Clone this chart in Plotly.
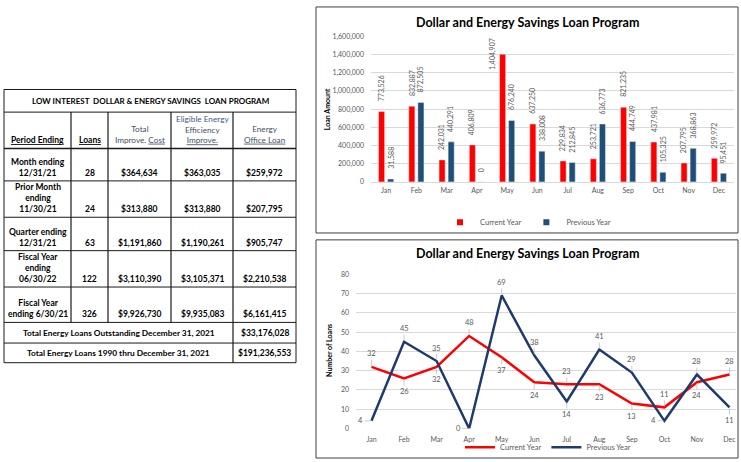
import plotly.graph_objects as go

W, H = 741, 462
FONT = "Lato, 'Open Sans', sans-serif"

# ---------------- data ----------------
months = ['Jan', 'Feb', 'Mar', 'Apr', 'May', 'Jun', 'Jul', 'Aug', 'Sep', 'Oct', 'Nov', 'Dec']
cur_amt = [773526, 832887, 242031, 406809, 1404907, 637250, 229834, 253721, 821235, 437981, 207795, 259972]
prev_amt = [31588, 872505, 440291, 0, 676240, 338008, 212845, 636773, 444749, 105325, 368863, 95451]
cur_cnt = [32, 26, 32, 48, 37, 24, 23, 23, 13, 11, 24, 28]
prev_cnt = [4, 45, 35, 0, 69, 38, 14, 41, 29, 4, 28, 11]
series_names = ['Current Year', 'Previous Year']
chart_title = 'Dollar and Energy Savings Loan Program'

table_title = 'LOW INTEREST  DOLLAR &amp; ENERGY SAVINGS  LOAN PROGRAM'
period_labels = ['Month ending<br>12/31/21', 'Prior Month<br>ending<br>11/30/21', 'Quarter ending<br>12/31/21',
                 'Fiscal Year<br>ending<br>06/30/22', 'Fiscal Year<br>ending 6/30/21']
loans = [28, 24, 63, 122, 326]
total_cost = [364634, 313880, 1191860, 3110390, 9926730]
eligible = [363035, 313880, 1190261, 3105371, 9935083]
office_loan = [259972, 207795, 905747, 2210538, 6161415]
summary_labels = ['Total Energy Loans Outstanding December 31, 2021', 'Total Energy Loans 1990 thru December 31, 2021']
summary_values = [33176028, 191236553]

# label placement codes for the line chart (style only)
cur_pos = ['a', 'b', 'b', 'a', 'b', 'b', 'a', 'b', 'b', 'a', 'b', 'a']
prev_pos = ['l', 'a', 'a', 'l', 'a', 'a', 'b', 'a', 'a', 'l', 'a', 'b']

RED = '#FF0000'
BLUE_BAR = '#1F4E79'
BLUE_LINE = '#1F3B6E'
GRID = '#D9D9D9'
TICK = '#595959'


def px(x):
    return x / W


def py(y):
    return 1 - y / H


fig = go.Figure()

# ---------------- bar chart ----------------
fig.add_trace(go.Bar(x=months, y=cur_amt, name=series_names[0], marker_color=RED,
                     xaxis='x', yaxis='y', showlegend=False))
fig.add_trace(go.Bar(x=months, y=prev_amt, name=series_names[1], marker_color=BLUE_BAR,
                     xaxis='x', yaxis='y', showlegend=False))
# legend entries (small squares, like the source)
for nm, col in zip(series_names, (RED, BLUE_BAR)):
    fig.add_trace(go.Scatter(x=[None], y=[None], mode='markers', name=nm,
                             marker=dict(symbol='square', size=6, color=col),
                             xaxis='x', yaxis='y', legend='legend'))

# ---------------- line chart ----------------
fig.add_trace(go.Scatter(x=months, y=cur_cnt, name=series_names[0], mode='lines',
                         line=dict(color=RED, width=2.5), xaxis='x2', yaxis='y2', legend='legend2'))
fig.add_trace(go.Scatter(x=months, y=prev_cnt, name=series_names[1], mode='lines',
                         line=dict(color=BLUE_LINE, width=2.5), xaxis='x2', yaxis='y2', legend='legend2'))

ann = []
shapes = []

# bar labels
for vals, xs in ((cur_amt, -4.5), (prev_amt, 4.5)):
    for m, v in zip(months, vals):
        if v > 1300000:
            ann.append(dict(xref='x', yref='y', x=m, y=v, text=f'{v:,}', showarrow=False, textangle=-90,
                            xshift=xs - 10, yshift=0, xanchor='center', yanchor='middle',
                            font=dict(size=7, color=TICK, family=FONT)))
        else:
            ann.append(dict(xref='x', yref='y', x=m, y=v, text=f'{v:,}', showarrow=False, textangle=-90,
                            xshift=xs, yshift=8, xanchor='center', yanchor='bottom',
                            font=dict(size=7, color=TICK, family=FONT)))

# line labels with leader lines
offs = {'a': (0, -13), 'b': (0, 13), 'l': (-11, 0)}
for vals, pos in ((cur_cnt, cur_pos), (prev_cnt, prev_pos)):
    for m, v, p in zip(months, vals, pos):
        dx, dy = offs[p]
        ann.append(dict(xref='x2', yref='y2', x=m, y=v, text=str(v), showarrow=True, ax=dx, ay=dy,
                        arrowhead=0, arrowwidth=0.8, arrowcolor='#BFBFBF', standoff=1,
                        font=dict(size=7.5, color=TICK, family=FONT)))

# chart titles and axis titles
for ty in (18, 253):
    ann.append(dict(xref='paper', yref='paper', x=px(527), y=py(ty), text='<b>' + chart_title + '</b>',
                    showarrow=False, xanchor='center', yanchor='middle',
                    font=dict(size=12.5, color='#000000', family=FONT)))
ann.append(dict(xref='paper', yref='paper', x=px(327), y=py(106), text='<b>Loan Amount</b>', textangle=-90,
                showarrow=False, xanchor='center', yanchor='middle', font=dict(size=7, color='#000', family=FONT)))
ann.append(dict(xref='paper', yref='paper', x=px(329), y=py(352), text='<b>Number of Loans</b>', textangle=-90,
                showarrow=False, xanchor='center', yanchor='middle', font=dict(size=7, color='#000', family=FONT)))

# chart frames
for y0, y1 in ((2, 232), (239, 461)):
    shapes.append(dict(type='rect', xref='paper', yref='paper', x0=px(316), x1=px(738), y0=py(y1), y1=py(y0),
                       line=dict(color='#404040', width=1)))

# ---------------- table ----------------
cols = [4, 71, 108, 171, 233, 296]
rows = [86, 109, 146, 179, 216, 250, 287, 323, 344, 364]
LC = '#1A1A1A'


def hline(y, x0, x1, w=1):
    shapes.append(dict(type='line', xref='paper', yref='paper', x0=px(x0), x1=px(x1), y0=py(y), y1=py(y),
                       line=dict(color=LC, width=w)))


def vline(x, y0, y1, w=1):
    shapes.append(dict(type='line', xref='paper', yref='paper', x0=px(x), x1=px(x), y0=py(y0), y1=py(y1),
                       line=dict(color=LC, width=w)))


for i, r in enumerate(rows):
    hline(r, cols[0], cols[-1], 1.6 if i == 2 else 1)
vline(cols[0], rows[0], rows[-1])
vline(cols[-1], rows[0], rows[-1])
for c in cols[1:-1]:
    vline(c, rows[1], rows[7], 1.2)
vline(cols[4], rows[7], rows[9], 1.2)


def txt(x, y, s, size=8.5, color='#000', yanchor='bottom'):
    ann.append(dict(xref='paper', yref='paper', x=px(x), y=py(y), text=s, showarrow=False,
                    xanchor='center', yanchor=yanchor, align='center',
                    font=dict(size=size, color=color, family=FONT)))


centers = [(cols[i] + cols[i + 1]) / 2 for i in range(5)]
txt((cols[0] + cols[-1]) / 2, 97.5, '<b>' + table_title + '</b>', size=8, yanchor='middle')
HC = '#3F4F66'
hb = rows[2] - 2
txt(centers[0], hb, '<b><u>Period Ending</u></b>', size=8.5)
txt(centers[1], hb, '<b><u>Loans</u></b>', size=8.5)
txt(centers[2], hb, 'Total<br>Improve. <u>Cost</u>', size=8.2, color=HC)
txt(centers[3], hb, '<span style="color:#3B5A8A">Eligible Energy</span><br>Efficiency<br><u>Improve.</u>',
    size=8.2, color=HC)
txt(centers[4], hb, 'Energy<br><u>Office Loan</u>', size=8.2, color=HC)

for i in range(5):
    yb = rows[i + 3] - 1
    txt(centers[0], yb, '<b>' + period_labels[i] + '</b>')
    txt(centers[1], yb, f'<b>{loans[i]}</b>')
    txt(centers[2], yb, f'<b>${total_cost[i]:,}</b>')
    txt(centers[3], yb, f'<b>${eligible[i]:,}</b>')
    txt(centers[4], yb, f'<b>${office_loan[i]:,}</b>')

for j in range(2):
    yc = (rows[7 + j] + rows[8 + j]) / 2
    txt((cols[0] + cols[4]) / 2, yc, '<b>' + summary_labels[j] + '</b>', size=8.3, yanchor='middle')
    txt(centers[4], yc, f'<b>${summary_values[j]:,}</b>', yanchor='middle')

# ---------------- layout ----------------
axis_common = dict(showline=False, zeroline=False, ticks='', tickfont=dict(size=7, color=TICK, family=FONT))
fig.update_layout(
    width=W, height=H, margin=dict(l=0, r=0, t=0, b=0),
    paper_bgcolor='white', plot_bgcolor='white',
    font=dict(family=FONT),
    barmode='group', bargap=0.4, bargroupgap=0.33,
    xaxis=dict(domain=[px(371), px(734)], anchor='y', type='category', showgrid=False,
               showline=True, linecolor=GRID, linewidth=1, ticks='', ticklabelstandoff=2,
               tickfont=dict(size=7, color=TICK, family=FONT)),
    yaxis=dict(domain=[py(180), py(32)], anchor='x', range=[0, 1600000], dtick=200000, tickformat=',',
               showgrid=True, gridcolor=GRID, gridwidth=1, ticklabelstandoff=6, **axis_common),
    xaxis2=dict(domain=[px(356), px(736)], anchor='y2', type='category', showgrid=False,
                ticklabelstandoff=5, **axis_common),
    yaxis2=dict(domain=[py(431), py(274)], anchor='x2', range=[0, 80], dtick=10,
                showgrid=True, gridcolor=GRID, gridwidth=1, ticklabelstandoff=6, **axis_common),
    legend=dict(x=px(528), y=py(221), xanchor='center', yanchor='middle', orientation='h',
                font=dict(size=7.5, color=TICK, family=FONT), bgcolor='rgba(0,0,0,0)',
                itemwidth=30, tracegroupgap=0),
    legend2=dict(x=px(548), y=py(450), xanchor='center', yanchor='middle', orientation='h',
                 font=dict(size=7.5, color=TICK, family=FONT), bgcolor='rgba(0,0,0,0)',
                 itemwidth=30, tracegroupgap=0),
    annotations=ann, shapes=shapes,
)

fig.write_html('out.html')
